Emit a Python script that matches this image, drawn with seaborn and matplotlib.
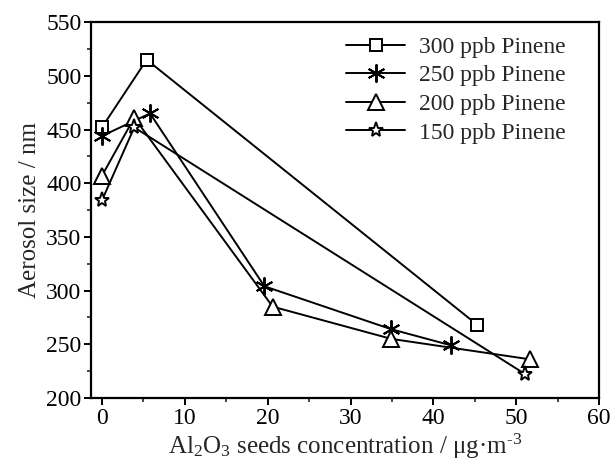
import numpy as np
import pandas as pd
import matplotlib
matplotlib.use("Agg")
import matplotlib.pyplot as plt
import seaborn as sns

# data
x300 = [0, 5.4, 45.3]
y300 = [452, 515, 268]
x250 = [0, 5.8, 19.6, 34.9, 42.1]
y250 = [444, 465, 304, 264, 249]
x200 = [0, 3.9, 20.6, 34.9, 51.6]
y200 = [407, 461, 285, 255, 236]
x150 = [0, 3.9, 51.1]
y150 = [384, 452, 222]

labels = ["300 ppb Pinene", "250 ppb Pinene", "200 ppb Pinene", "150 ppb Pinene"]

sns.set_style("ticks")
plt.rcParams['font.family'] = ['Liberation Serif', 'DejaVu Serif']
plt.rcParams['mathtext.fontset'] = 'custom'
plt.rcParams['mathtext.rm'] = 'Liberation Serif'
plt.rcParams['mathtext.it'] = 'Liberation Serif:italic'

fig = plt.figure(figsize=(6.12, 4.72), dpi=100)
ax = fig.add_axes([0.149, 0.157, 0.830, 0.796])

series = [(x300, y300, 's', 9), (x250, y250, (6, 2, 0), 13),
          (x200, y200, '^', 11), (x150, y150, '*', 11)]
for (xs, ys, m, size), lab in zip(series, labels):
    sns.lineplot(x=xs, y=ys, ax=ax, color='black', lw=1.4, marker=m, markersize=size,
                 markerfacecolor='white', markeredgecolor='black', markeredgewidth=1.4,
                 label=lab, sort=False)

ax.set_xlim(-1.3, 60)
ax.set_ylim(200, 550)
ax.set_xticks(np.arange(0, 61, 10))
ax.set_yticks(np.arange(200, 551, 50))
ax.set_xticks(np.arange(5, 60, 10), minor=True)
ax.set_yticks(np.arange(225, 550, 50), minor=True)
ax.tick_params(which='major', direction='out', length=5, width=1.4, labelsize=17,
               colors='black', pad=2)
ax.tick_params(which='minor', direction='out', length=3, width=1.2)
for s in ax.spines.values():
    s.set_linewidth(1.6)
    s.set_color('black')

ax.set_xlabel(r"Al$_2$O$_3$ seeds concentration / μg·m$^{\text{-3}}$", fontsize=18, labelpad=2)
ax.set_ylabel("Aerosol size / nm", fontsize=18, labelpad=4)

ax.legend(loc='upper right', frameon=False, fontsize=17, handlelength=2.5,
          handletextpad=0.6, labelspacing=0.3, borderaxespad=0.2, bbox_to_anchor=(0.963, 1.0))

fig.savefig("out.png", dpi=100)
